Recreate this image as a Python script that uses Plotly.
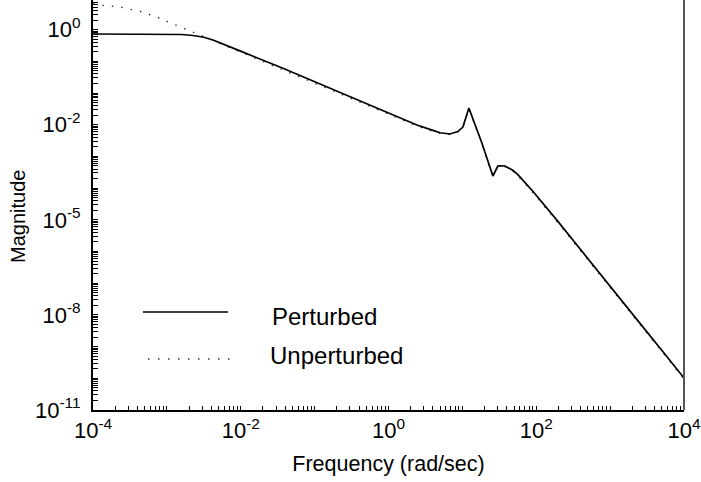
import plotly.graph_objects as go

# ---- data (log10 units) ----
log_freq_perturbed = [-4.000, -3.500, -3.000, -2.800, -2.647, -2.500, -2.376, -2.268,
                      -2.011, -1.429, -0.522, -0.292, -0.076, 0.154, 0.384, 0.601,
                      0.700, 0.831, 0.939, 1.007, 1.088, 1.264, 1.345, 1.413, 1.480,
                      1.507, 1.575, 1.629, 1.683, 1.751, 1.832, 1.954, 2.279, 2.631,
                      2.996, 3.402, 3.767, 4.000]
log_mag_perturbed = [0.861, 0.861, 0.858, 0.845, 0.814, 0.760, 0.672, 0.577,
                     0.330, -0.220, -1.126, -1.347, -1.568, -1.789, -2.009, -2.180,
                     -2.255, -2.293, -2.215, -2.073, -1.473, -2.577, -3.177, -3.618, -3.303,
                     -3.295, -3.303, -3.360, -3.438, -3.577, -3.776, -4.100, -5.010, -6.040,
                     -7.100, -8.260, -9.310, -9.991]

log_freq_unperturbed = [-4.000, -3.919, -3.770, -3.635, -3.513, -3.378, -3.256, -3.134,
                        -3.012, -2.877, -2.755, -2.633, -2.512, -2.390, -2.268, -2.011,
                        -1.429, -0.522, -0.292, -0.076, 0.154, 0.384, 0.601, 0.700,
                        0.831, 0.939, 1.007, 1.088, 1.264, 1.345, 1.413, 1.480, 1.575,
                        1.683, 1.751, 1.832, 1.954, 2.279, 2.631, 2.996, 3.402, 3.767, 4.000]
log_mag_unperturbed = [1.808, 1.776, 1.744, 1.713, 1.650, 1.587, 1.492, 1.397,
                       1.271, 1.145, 1.019, 0.924, 0.798, 0.672, 0.550, 0.300,
                       -0.260, -1.160, -1.380, -1.600, -1.820, -2.040, -2.210, -2.280,
                       -2.310, -2.230, -2.090, -1.500, -2.600, -3.200, -3.600, -3.330, -3.320,
                       -3.470, -3.610, -3.810, -4.135, -5.045, -6.075, -7.135, -8.295, -9.345, -10.030]

x_tick_vals = [1e-4, 1e-2, 1e0, 1e2, 1e4]
x_tick_text = ["10<sup>-4</sup>", "10<sup>-2</sup>", "10<sup>0</sup>", "10<sup>2</sup>", "10<sup>4</sup>"]
y_tick_vals = [1e-11, 1e-8, 1e-5, 1e-2, 1e1]
y_tick_text = ["10<sup>-11</sup>", "10<sup>-8</sup>", "10<sup>-5</sup>", "10<sup>-2</sup>", "10<sup>0</sup>"]
series_names = ["Perturbed", "Unperturbed"]
x_title = "Frequency (rad/sec)"
y_title = "Magnitude"

freq_p = [10 ** v for v in log_freq_perturbed]
mag_p = [10 ** v for v in log_mag_perturbed]
freq_u = [10 ** v for v in log_freq_unperturbed]
mag_u = [10 ** v for v in log_mag_unperturbed]

x_minor = [k * 10.0 ** n for n in range(-4, 4) for k in range(1, 10)] + [1e4]
y_minor = [k * 10.0 ** n for n in range(-11, 2) for k in range(1, 10)]

FONT = "Liberation Sans, Arial, Helvetica, sans-serif"

fig = go.Figure()
fig.add_trace(go.Scatter(x=freq_u, y=mag_u, mode="lines", name=series_names[1],
                         line=dict(color="#333333", width=1.4, dash="1.5px,8px"),
                         showlegend=False))
fig.add_trace(go.Scatter(x=freq_p, y=mag_p, mode="lines", name=series_names[0],
                         line=dict(color="black", width=1.7),
                         showlegend=False))

# manual legend (inside plot area)
fig.add_shape(type="line", xref="paper", yref="paper", x0=0.0846, x1=0.2284, y0=0.239, y1=0.239,
              line=dict(color="black", width=1.5))
fig.add_shape(type="line", xref="paper", yref="paper", x0=0.0931, x1=0.2318, y0=0.1244, y1=0.1244,
              line=dict(color="#333333", width=1.4, dash="1.5px,8.5px"))
fig.add_annotation(xref="paper", yref="paper", x=0.2995, y=0.229, text=series_names[0],
                   showarrow=False, xanchor="left", yanchor="middle",
                   font=dict(family=FONT, size=24, color="black"))
fig.add_annotation(xref="paper", yref="paper", x=0.296, y=0.132, text=series_names[1],
                   showarrow=False, xanchor="left", yanchor="middle",
                   font=dict(family=FONT, size=24, color="black"))

# y-axis title placed to match the reference
fig.add_annotation(xref="paper", yref="paper", x=-0.1269, y=0.4707, text=y_title,
                   textangle=-90, showarrow=False, xanchor="center", yanchor="middle",
                   font=dict(family=FONT, size=20, color="black"))

# right border
fig.add_shape(type="line", xref="paper", yref="paper", x0=1, x1=1, y0=0, y1=1,
              line=dict(color="#555555", width=2))

fig.update_xaxes(type="log", range=[-4, 4], tickmode="array", tickvals=x_tick_vals,
                 ticktext=x_tick_text, ticks="inside", ticklen=4, tickcolor="black",
                 showline=True, linecolor="black", linewidth=2, showgrid=False,
                 zeroline=False, tickfont=dict(family=FONT, size=22, color="black"),
                 minor=dict(tickmode="array", tickvals=x_minor, ticks="inside", ticklen=4,
                            tickcolor="black", showgrid=False),
                 title=dict(text=x_title, font=dict(family=FONT, size=21.5, color="black"), standoff=14))
fig.update_yaxes(type="log", range=[-11, 1.934], tickmode="array", tickvals=y_tick_vals,
                 ticktext=y_tick_text, ticks="inside", ticklen=5, tickcolor="black",
                 showline=True, linecolor="black", linewidth=2, showgrid=False,
                 zeroline=False, tickfont=dict(family=FONT, size=22, color="black"),
                 ticklabelstandoff=6,
                 minor=dict(tickmode="array", tickvals=y_minor, ticks="inside", ticklen=5,
                            tickcolor="black", showgrid=False))

fig.update_layout(width=701, height=482, margin=dict(l=93, r=17, t=0, b=72),
                  plot_bgcolor="white", paper_bgcolor="white",
                  font=dict(family=FONT, color="black"), showlegend=False)

fig.write_html("out.html")
